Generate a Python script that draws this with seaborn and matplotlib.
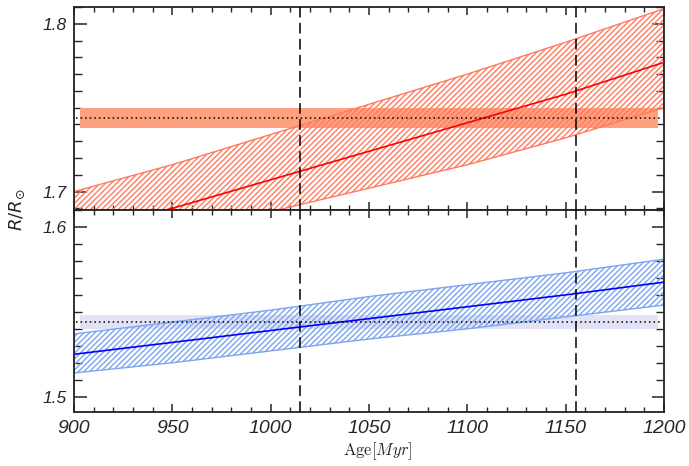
import matplotlib
matplotlib.use("Agg")
import matplotlib.pyplot as plt
from matplotlib.ticker import MultipleLocator
import numpy as np
import pandas as pd
import seaborn as sns

# ---- data ----
ages = [900, 950, 1000, 1050, 1100, 1150, 1200]
top_center = [1.675, 1.690, 1.707, 1.724, 1.741, 1.758, 1.777]
top_upper = [1.700, 1.716, 1.734, 1.752, 1.770, 1.789, 1.809]
top_lower = [1.660, 1.674, 1.688, 1.702, 1.716, 1.732, 1.750]
bot_center = [1.525, 1.532, 1.539, 1.546, 1.553, 1.560, 1.5675]
bot_upper = [1.537, 1.544, 1.551, 1.559, 1.566, 1.573, 1.581]
bot_lower = [1.514, 1.520, 1.527, 1.534, 1.540, 1.547, 1.554]

obs_top = 1.744
obs_top_err = 0.006
obs_bot = 1.544
obs_bot_err = 0.004
obs_age_range = [903, 1197]
dotted_age_range = [901, 1199]
age_markers = [1015, 1155]

xticks = [900, 950, 1000, 1050, 1100, 1150, 1200]
top_yticks = [1.7, 1.8]
bot_yticks = [1.5, 1.6]

sns.set_style("ticks")
plt.rcParams.update({
    "xtick.direction": "in", "ytick.direction": "in",
    "xtick.top": True, "ytick.right": True,
    "hatch.linewidth": 1.0,
    "mathtext.fontset": "dejavusans",
})

fig = plt.figure(figsize=(6.89, 4.66), dpi=100)
W, H = 689, 466
left, right = 74 / W, 664 / W
ax1 = fig.add_axes([left, 1 - 210 / H, right - left, 203 / H])
ax2 = fig.add_axes([left, 1 - 412 / H, right - left, 202 / H])

df_top = pd.DataFrame({"age": ages, "r": top_center})
df_bot = pd.DataFrame({"age": ages, "r": bot_center})

tick_font = dict(family="Liberation Sans", style="italic")

for ax, df, up, lo, obs, err, band_col, hatch_col, line_col, ylim, yt in [
    (ax1, df_top, top_upper, top_lower, obs_top, obs_top_err, "#ffa07f", "#ff7a5e", "#ff0000", (1.689, 1.810), top_yticks),
    (ax2, df_bot, bot_upper, bot_lower, obs_bot, obs_bot_err, "#e2e2f7", "#7ca4ef", "#0000ff", (1.491, 1.610), bot_yticks),
]:
    ax.fill_between(obs_age_range, [obs - err] * 2, [obs + err] * 2,
                    color=band_col, lw=0, zorder=1)
    ax.fill_between(ages, lo, up, facecolor="none", edgecolor=hatch_col,
                    hatch="//////", lw=1.0, zorder=2)
    sns.lineplot(data=df, x="age", y="r", ax=ax, color=line_col, lw=1.2, zorder=3)
    ax.plot(dotted_age_range, [obs, obs], color="black", lw=1.1,
            linestyle=(0, (1, 2)), zorder=4)
    for a in age_markers:
        ax.axvline(a, color="black", lw=1.1, linestyle=(0, (7, 3.5)), zorder=5)
    ax.set_xlim(900, 1200)
    ax.set_ylim(*ylim)
    ax.set_xticks(xticks)
    ax.set_yticks(yt)
    ax.xaxis.set_minor_locator(MultipleLocator(10))
    ax.yaxis.set_minor_locator(MultipleLocator(0.01))
    ax.tick_params(which="major", axis="y", length=9, width=1.1)
    ax.tick_params(which="minor", axis="y", length=6, width=1.0)
    ax.tick_params(which="major", axis="x", length=6, width=1.1)
    ax.tick_params(which="minor", axis="x", length=3.5, width=1.0)
    ax.tick_params(which="both", top=True, right=True, direction="in")
    ax.tick_params(axis="y", pad=5)
    for s in ax.spines.values():
        s.set_linewidth(1.3)
        s.set_color("#222222")
    ax.set_xlabel("")
    ax.set_ylabel("")
    ax.set_yticklabels([f"{v:.1f}" for v in yt], fontsize=12.5, **tick_font)

ax1.set_xticklabels([])
ax2.tick_params(axis="x", pad=6)
ax2.set_xticklabels([str(v) for v in xticks], fontsize=14, **tick_font)

fig.text(378 / W, 1 - 451 / H, r"$\mathrm{Age}[Myr]$", ha="center", va="center",
         fontsize=12, math_fontfamily="cm")
fig.text(17 / W, 1 - 210 / H, r"$R/R_{\odot}$", ha="center", va="center",
         rotation=90, fontsize=13)

fig.savefig("out.png", dpi=100)
